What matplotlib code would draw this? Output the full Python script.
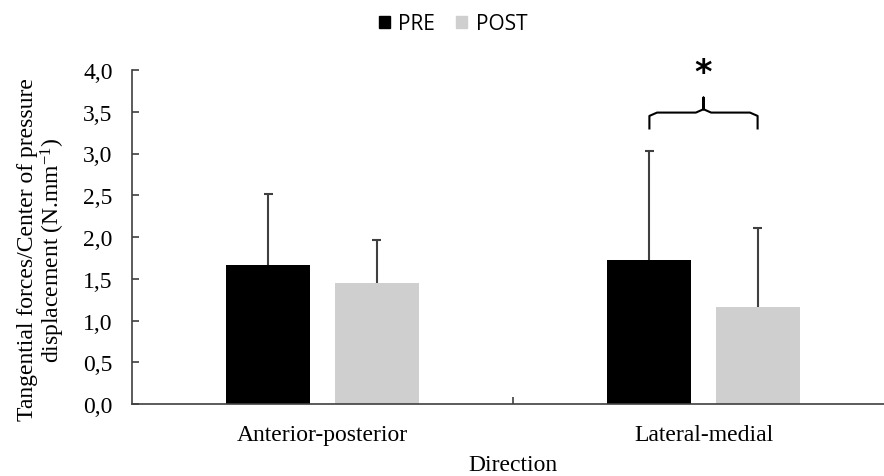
import matplotlib
matplotlib.use("Agg")
import matplotlib.pyplot as plt
from matplotlib.patches import Rectangle
import numpy as np

categories = ["Anterior-posterior", "Lateral-medial"]
series_names = ["PRE", "POST"]
pre_means = [1.67, 1.73]
pre_sd = [0.84, 1.30]
post_means = [1.45, 1.16]
post_sd = [0.51, 0.95]
yticks = [0.0, 0.5, 1.0, 1.5, 2.0, 2.5, 3.0, 3.5, 4.0]
ytick_labels = ["0,0", "0,5", "1,0", "1,5", "2,0", "2,5", "3,0", "3,5", "4,0"]

pre_color = "#000000"
post_color = "#cfcfcf"
axis_color = "#404040"
serif = "Liberation Serif"
fs = 17

plt.rcParams["mathtext.fontset"] = "custom"
plt.rcParams["mathtext.rm"] = serif
plt.rcParams["mathtext.it"] = serif
plt.rcParams["mathtext.default"] = "rm"

fig = plt.figure(figsize=(8.84, 4.77), dpi=100)
ax = fig.add_axes([132/884, 72/477, 762/884, 334/477])

x = np.arange(len(categories))
w = 0.22
off = 0.142
cap = 0.011
ax.bar(x - off, pre_means, w, color=pre_color, zorder=2)
ax.bar(x + off, post_means, w, color=post_color, zorder=2)
for xs, m, s in [(x - off, pre_means, pre_sd), (x + off, post_means, post_sd)]:
    tops = np.array(m) + np.array(s)
    ax.vlines(xs, m, tops, color=axis_color, lw=1.5, zorder=3)
    ax.hlines(tops, xs - cap, xs + cap, color=axis_color, lw=1.5, zorder=3)

ax.set_xlim(-0.5, 1.5)
ax.set_ylim(0, 4.0)
ax.set_yticks(yticks)
ax.set_yticklabels(ytick_labels, fontfamily=serif, fontsize=fs)
ax.set_xticks([0.5])
ax.set_xticklabels([""])
ax.tick_params(axis="y", direction="in", length=5, color=axis_color, width=1.2, pad=14)
ax.tick_params(axis="x", direction="in", length=5, color=axis_color, width=1.2)
for s in ["top", "right"]:
    ax.spines[s].set_visible(False)
for s in ["left", "bottom"]:
    ax.spines[s].set_color(axis_color)
    ax.spines[s].set_linewidth(1.2)

for i, c in enumerate(categories):
    ax.text(x[i], -0.37, c, ha="center", va="center", fontfamily=serif, fontsize=fs)
fig.text(513/884, 1 - 466/477, "Direction", ha="center", va="center",
         fontfamily=serif, fontsize=fs)
fig.text(42/884, 1 - 250/477, "Tangential forces/Center of pressure\ndisplacement (N.mm$^{-1}$)",
         ha="center", va="center", rotation=90, fontfamily=serif,
         fontsize=fs, linespacing=1.0)

# significance brace over Lateral-medial
bl = x[1] - off
br = x[1] + off
yb = 3.49
yend = 3.30
ytip = 3.67
xm = x[1]
bx = [bl, bl, bl + 0.02, xm - 0.02, xm, xm, xm, xm + 0.02, br - 0.02, br, br]
by = [yend, yb - 0.04, yb, yb, yb + 0.04, ytip, yb + 0.04, yb, yb, yb - 0.04, yend]
ax.plot(bx, by, color="#000000", lw=1.5, clip_on=False, solid_joinstyle="round")
ax.text(xm, 3.97, "*", ha="center", va="center", fontsize=24, fontweight="bold",
        fontfamily="DejaVu Sans")

# legend
handles = [Rectangle((0, 0), 1, 1, color=pre_color), Rectangle((0, 0), 1, 1, color=post_color)]
fig.legend(handles, series_names, loc="center", bbox_to_anchor=(453/884, 1 - 25/477),
           ncol=2, frameon=False, handlelength=0.55, handleheight=0.55, handletextpad=0.4,
           columnspacing=1.0, prop={"family": "Open Sans", "size": 15})

fig.savefig("out.png", dpi=100)
